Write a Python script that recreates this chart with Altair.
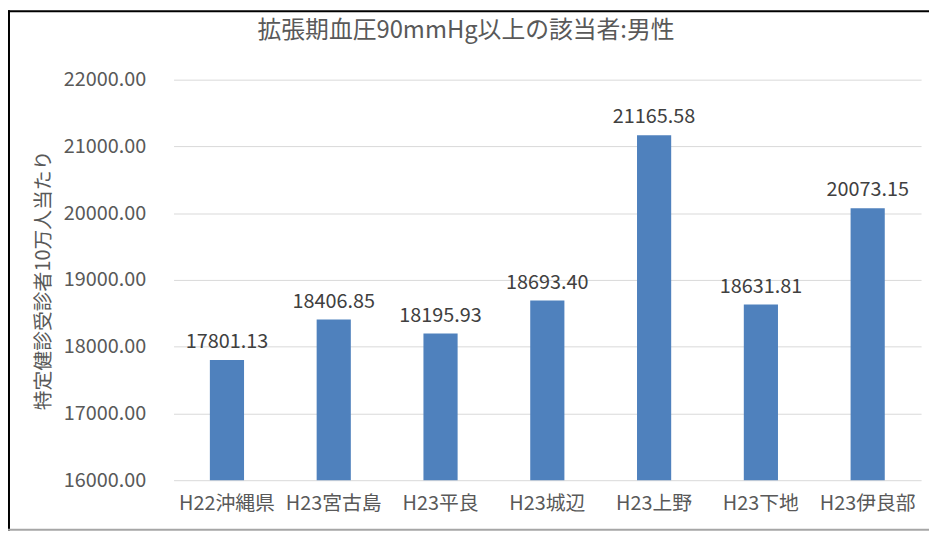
import altair as alt
import pandas as pd

categories = ["H22沖縄県", "H23宮古島", "H23平良", "H23城辺", "H23上野", "H23下地", "H23伊良部"]
values = [17801.13, 18406.85, 18195.93, 18693.40, 21165.58, 18631.81, 20073.15]
y_ticks = [16000, 17000, 18000, 19000, 20000, 21000, 22000]

df = pd.DataFrame({"cat": categories, "val": values})
df["label"] = [f"{v:.2f}" for v in values]

FONT = "Noto Sans CJK JP"
W, H = 754, 404

base = alt.Chart(df).encode(
    x=alt.X("cat:N", sort=categories, title=None,
            scale=alt.Scale(paddingInner=0.68, paddingOuter=0.34),
            axis=alt.Axis(labelAngle=0, ticks=False, domain=False, labelPadding=14,
                          labelFontSize=20, labelColor="#595959", labelFont=FONT)),
    y=alt.Y("val:Q", title="特定健診受診者10万人当たり",
            scale=alt.Scale(domain=[16000, 22000], nice=False, zero=False),
            axis=alt.Axis(values=y_ticks, format=".2f", ticks=False, domain=False,
                          labelPadding=28, labelFontSize=20, labelColor="#595959",
                          labelFont=FONT, gridColor="#d9d9d9", titleFont=FONT,
                          titleFontSize=20, titleColor="#595959", titleFontWeight="normal",
                          titlePadding=10)),
)

bars = base.mark_bar(color="#4F81BD", clip=True)
labels = base.mark_text(dy=-12, baseline="alphabetic", fontSize=20, color="#404040",
                        font=FONT).encode(text="label:N")

frame = pd.DataFrame({"d": [0]})
left_border = alt.Chart(frame).mark_rule(color="#000000", strokeWidth=2).encode(
    x=alt.value(-166), y=alt.value(-70), y2=alt.value(455))
top_border = alt.Chart(frame).mark_rule(color="#000000", strokeWidth=2).encode(
    x=alt.value(-167), x2=alt.value(W + 20), y=alt.value(-69))
bottom_border = alt.Chart(frame).mark_rule(color="#a6a6a6", strokeWidth=2).encode(
    x=alt.value(-167), x2=alt.value(W + 20), y=alt.value(454))

chart = alt.layer(bars, labels, left_border, top_border, bottom_border).properties(
    width=W, height=H,
    title=alt.TitleParams("拡張期血圧90mmHg以上の該当者:男性", font=FONT, fontSize=24,
                          color="#595959", fontWeight="normal", offset=0, dx=-82, dy=34),
    padding={"left": 167, "top": 70, "right": 8, "bottom": 54},
    autosize=alt.AutoSizeParams(type="none"),
).configure_view(stroke=None)

chart.save("out.html", embed_options={"renderer": "svg", "actions": False})
